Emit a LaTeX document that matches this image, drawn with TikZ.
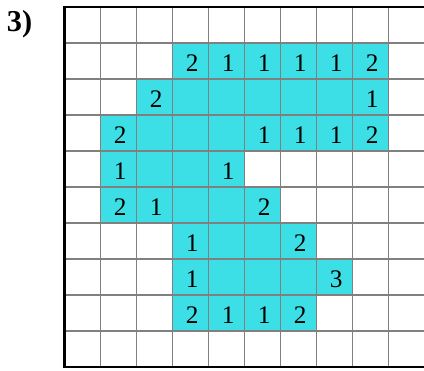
\documentclass[tikz,border=0pt]{standalone}
\usepackage{fontspec}
\setmainfont{Liberation Serif}
\usepackage{tikz}
\definecolor{CellFill}{HTML}{3CDFE5}
\definecolor{GridLine}{HTML}{808080}

\begin{document}
\begin{tikzpicture}[
			cellfill/.style={fill=CellFill},
			gridline/.style={draw=GridLine, line width=1pt},
			frameline/.style={draw=black, line width=2pt},
			cellnum/.style={font=\fontsize{20}{24}\selectfont, inner sep=0pt, anchor=base}
			]
			\useasboundingbox (-1.792,-0.111) rectangle (9.986,10.194);
			
			% Task number
			\node[
			font=\fontsize{24}{28}\selectfont\bfseries,
			inner sep=0pt,
			anchor=base west
			]
			(tasklabel) at (-1.606,9.319)
			{3)};
			
			% Filled cells: row / first column / last column
			\foreach \r/\a/\b in {1/3/8, 2/2/8, 3/1/8, 4/1/4, 5/1/5, 6/3/6, 7/3/7, 8/3/6}
			\path[cellfill] (\a,9-\r) rectangle (\b+1,10-\r);
			
			% Grid
			\path[gridline] (0,0) grid (10,10);
			
			% Frame
			\path[frameline] (10,10) -- (0,10) -- (0,0) -- (10,0);
			
			% Numbers: row / column / value
			\foreach \r/\c/\v in {1/3/2, 1/4/1, 1/5/1, 1/6/1, 1/7/1, 1/8/2,
				2/2/2, 2/8/1,
				3/1/2, 3/5/1, 3/6/1, 3/7/1, 3/8/2,
				4/1/1, 4/4/1,
				5/1/2, 5/2/1, 5/5/2,
				6/3/1, 6/6/2,
				7/3/1, 7/7/3,
				8/3/2, 8/4/1, 8/5/1, 8/6/2}
			\node[cellnum] (n-\r-\c) at (\c+0.55,9.22-\r) {\v};
			
		\end{tikzpicture}
\end{document}
